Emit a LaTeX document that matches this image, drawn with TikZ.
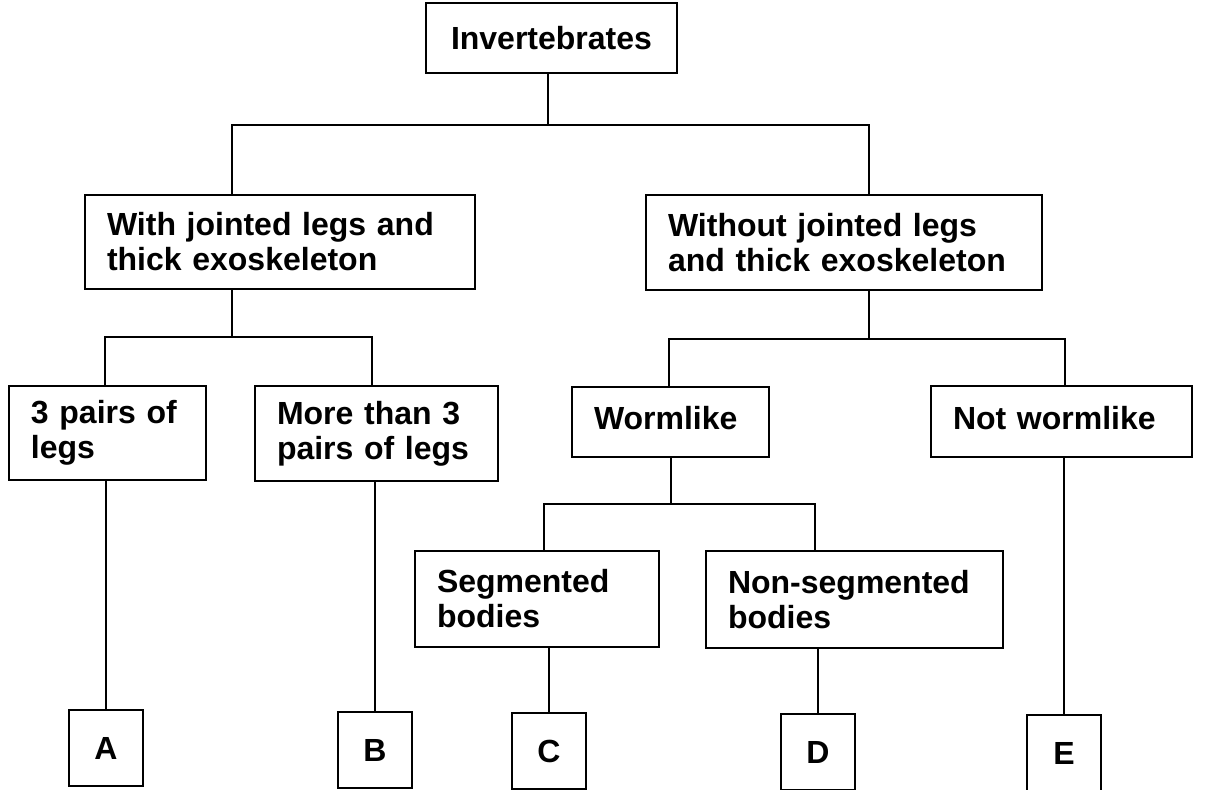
\documentclass[tikz,border=0pt]{standalone}
\usepackage{fontspec}
\setmainfont{Liberation Sans}
\usetikzlibrary{positioning,calc}

\begin{document}
\begin{tikzpicture}[x=0.5pt,y=-0.5pt,
    box/.style={draw, line width=1pt, inner xsep=11pt, inner ysep=0pt, align=left,
        font=\fontsize{16}{17.5}\selectfont\bfseries},
    leaf/.style={draw, line width=1pt, inner sep=0pt, minimum width=37pt, minimum height=38pt,
        font=\fontsize{16}{17.5}\selectfont\bfseries},
    link/.style={line width=0.9pt}]
    \useasboundingbox (0,0) rectangle (1207,789);

    \node[box, align=center, text width=103.5pt, minimum height=35pt] (inv) at (551.5,38) {Invertebrates};

    \node[box, text width=173pt, minimum height=47pt] (jl) at (280,242) {With jointed legs and\\thick exoskeleton};
    \node[box, text width=176pt, minimum height=47.5pt] (njl) at (844,242.5) {Without jointed legs\\and thick exoskeleton};

    \node[box, text width=76.5pt, minimum height=47pt] (three) at (107.5,433) {3 pairs of\\legs};
    \node[box, text width=99.5pt, minimum height=47.5pt] (more) at (376.5,433.5) {More than 3\\pairs of legs};
    \node[box, text width=76.5pt, minimum height=35pt, text depth=4pt] (worm) at (670.5,422) {Wormlike};
    \node[box, text width=108.5pt, minimum height=35.5pt, text depth=4pt] (notworm) at (1061.5,421.5) {Not wormlike};

    \node[box, text width=100pt, minimum height=48pt] (seg) at (537,599) {Segmented\\bodies};
    \node[box, text width=126.5pt, minimum height=48.5pt] (nonseg) at (854.5,599.5) {Non-segmented\\bodies};

    \node[leaf] (A) at (106,748) {A};
    \node[leaf] (B) at (375,750) {B};
    \node[leaf] (C) at (549,751) {C};
    \node[leaf] (D) at (818,752) {D};
    \node[leaf] (E) at (1064,753) {E};

    \draw[link] ([xshift=-1.75pt]inv.south) -- ++(0,51) coordinate (fork1);
    \draw[link] ([xshift=-24pt]jl.north) |- (fork1) -| ([xshift=12.5pt]njl.north);

    \draw[link] ([xshift=-24pt]jl.south) -- ++(0,47) coordinate (fork2);
    \draw[link] ([xshift=-1.25pt]three.north) |- (fork2) -| ([xshift=-2.25pt]more.north);

    \draw[link] ([xshift=12.5pt]njl.south) -- ++(0,48) coordinate (fork3);
    \draw[link] ([xshift=-0.75pt]worm.north) |- (fork3) -| ([xshift=1.75pt]notworm.north);

    \draw[link] ([xshift=0.25pt]worm.south) -- ++(0,46) coordinate (fork4);
    \draw[link] ([xshift=3.5pt]seg.north) |- (fork4) -| ([xshift=-19.75pt]nonseg.north);

    \draw[link] (three.south -| A.north) -- (A.north);
    \draw[link] (more.south -| B.north) -- (B.north);
    \draw[link] (seg.south -| C.north) -- (C.north);
    \draw[link] (nonseg.south -| D.north) -- (D.north);
    \draw[link] (notworm.south -| E.north) -- (E.north);
\end{tikzpicture}
\end{document}
